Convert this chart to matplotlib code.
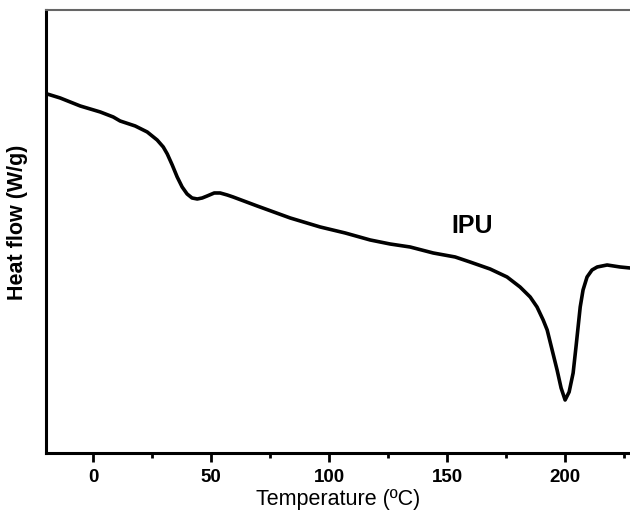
import matplotlib
matplotlib.use("Agg")
import matplotlib.pyplot as plt

plt.rcParams['font.family'] = ['Liberation Sans', 'DejaVu Sans']

# DSC curve of IPU (heat flow in arbitrary units)
temperature = [
    -19.5, -14.0, -5.5, 3.0, 8.5, 11.4, 17.8, 22.9, 27.1, 29.7, 31.4, 33.5,
    35.6, 37.7, 39.8, 41.9, 44.1, 46.2, 48.3, 51.3, 53.8, 56.8, 59.3, 69.5,
    83.5, 96.2, 106.8, 117.4, 125.8, 134.3, 144.1, 153.4, 159.7, 168.2,
    175.4, 180.9, 185.2, 188.1, 190.7, 192.4, 194.5, 196.6, 198.3, 200.0,
    201.7, 203.4, 204.7, 206.4, 207.6, 209.3, 211.4, 213.6, 217.8, 223.3,
    227.5,
]
heat_flow = [
    -0.94, -0.98, -1.06, -1.12, -1.17, -1.21, -1.26, -1.32, -1.40, -1.47,
    -1.54, -1.65, -1.77, -1.87, -1.94, -1.98, -1.99, -1.98, -1.96, -1.93,
    -1.93, -1.95, -1.97, -2.06, -2.18, -2.27, -2.33, -2.40, -2.44, -2.47,
    -2.53, -2.57, -2.62, -2.69, -2.77, -2.87, -2.97, -3.07, -3.20, -3.30,
    -3.50, -3.70, -3.88, -4.00, -3.92, -3.73, -3.45, -3.07, -2.90, -2.77,
    -2.70, -2.67, -2.65, -2.67, -2.68,
]
x_ticks = [0, 50, 100, 150, 200]
sample_label = "IPU"

fig = plt.figure(figsize=(6.3, 5.11), dpi=100)
ax = fig.add_axes([0.073, 0.1135, 0.927, 0.867])

ax.plot(temperature, heat_flow, color="black", lw=2.6,
        solid_joinstyle="round", solid_capstyle="round")

ax.set_xlim(-20, 227.5)
ax.set_ylim(-4.53, -0.10)

ax.set_xticks(x_ticks)
ax.set_xticks([25, 75, 125, 175, 225], minor=True)
ax.set_yticks([])
ax.tick_params(axis="x", which="major", direction="out", length=6.5,
               width=2, pad=5, labelsize=13.5)
ax.tick_params(axis="x", which="minor", direction="out", length=3.5, width=2)
for lab in ax.get_xticklabels():
    lab.set_fontweight("bold")

ax.spines["left"].set_linewidth(2.2)
ax.spines["bottom"].set_linewidth(2.2)
ax.spines["right"].set_visible(False)
ax.spines["top"].set_color("#666666")
ax.spines["top"].set_linewidth(1.5)

ax.set_xlabel("Temperature (\u00baC)", fontsize=15.5, labelpad=2)
ax.set_ylabel("Heat flow (W/g)", fontsize=15.5, fontweight="bold")
ax.yaxis.set_label_coords(-0.03, 0.52)

ax.text(160.6, -2.26, sample_label, fontsize=18, fontweight="bold",
        ha="center", va="center")

fig.savefig("out.png", dpi=100)
